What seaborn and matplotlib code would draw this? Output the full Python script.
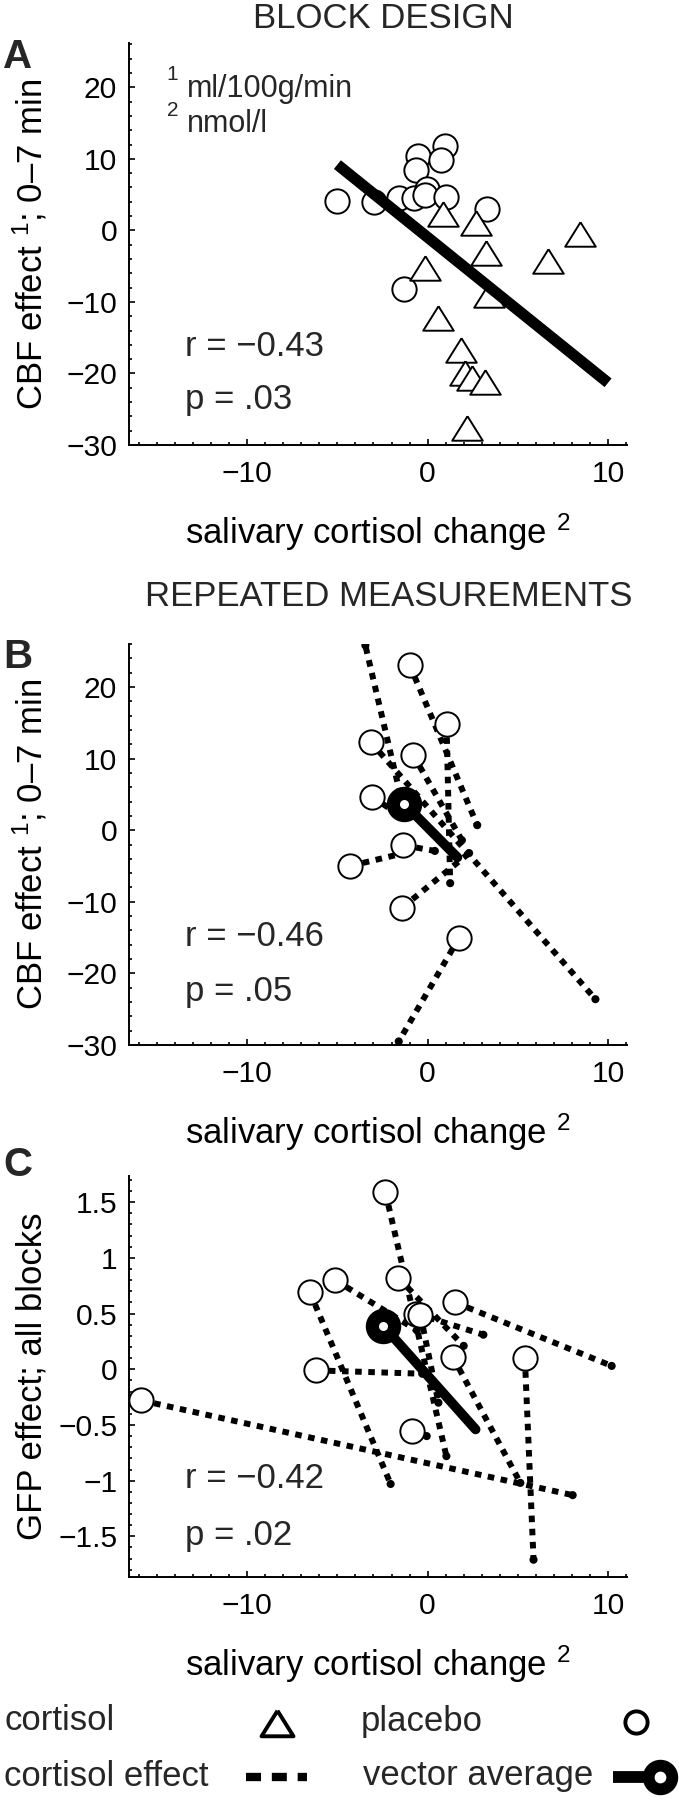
import numpy as np
import pandas as pd
import matplotlib
matplotlib.use("Agg")
import matplotlib.pyplot as plt
import seaborn as sns
from matplotlib.ticker import MultipleLocator, FixedLocator, FixedFormatter

W, H = 679, 1800

# ---- panel A: block design (placebo circles, cortisol triangles)
a_plac_x = [-5.0, -2.95, -1.6, -0.53, -0.65, -0.77, -0.05, -0.17, 0.97, 0.72, 1.04, 3.28, -1.3]
a_plac_y = [4.1, 4.0, 4.5, 10.4, 8.4, 4.5, 5.8, 4.9, 11.8, 9.9, 4.7, 3.0, -8.2]
a_cort_x = [0.85, 2.66, 8.45, 3.26, 6.67, -0.17, 3.4, 0.58, 1.84, 2.08, 2.44, 3.2, 2.17]
a_cort_y = [2.3, 1.05, -0.45, -3.2, -4.3, -5.3, -9.0, -12.3, -16.7, -19.9, -20.6, -21.2, -27.6]
a_fit_x = [-5.0, 10.0]
a_fit_y = [9.2, -21.3]

# ---- panel B: repeated measurements, CBF (placebo -> cortisol per subject)
b_plac_x = [-1.0, 1.05, -3.15, -0.8, -1.35, -3.1, -1.35, -4.3, -1.4, 1.75]
b_plac_y = [23.1, 14.8, 12.3, 10.5, 3.2, 4.7, -2.1, -5.0, -10.8, -15.0]
b_cort_x = [2.75, 1.25, 9.3, 1.9, -3.45, -1.5, 0.4, -1.3, 2.3, -1.6]
b_cort_y = [0.7, -7.4, -23.6, -1.4, 25.8, 2.0, -2.9, -3.2, -3.2, -29.5]
b_vec_x = [-1.3, 1.65]
b_vec_y = [3.7, -3.8]

# ---- panel C: repeated measurements, GFP
c_plac_x = [-2.34, -1.62, -6.52, -5.12, -0.65, -0.4, 1.52, 1.4, 5.39, -6.2, -15.87, -0.89]
c_plac_y = [1.59, 0.82, 0.69, 0.80, 0.50, 0.49, 0.60, 0.11, 0.10, -0.01, -0.28, -0.55]
c_cort_x = [1.04, 2.0, -2.05, -0.6, 3.09, 0.6, 10.2, 5.14, 5.87, -0.3, 8.04, -0.05]
c_cort_y = [-0.78, 0.21, -1.03, 0.35, 0.31, -0.3, 0.03, -1.02, -1.71, -0.04, -1.13, -0.6]
c_vec_x = [-2.46, 2.66]
c_vec_y = [0.39, -0.54]

cbf_ticks = [-30, -20, -10, 0, 10, 20]
gfp_ticks = [-1.5, -1, -0.5, 0, 0.5, 1, 1.5]
gfp_ticklabels = ["\u22121.5", "\u22121", "\u22120.5", "0", "0.5", "1", "1.5"]
x_ticks = [-10, 0, 10]
stats = [("r = \u22120.43", "p = .03"), ("r = \u22120.46", "p = .05"), ("r = \u22120.42", "p = .02")]

sns.set_theme(style="ticks")
plt.rcParams["font.family"] = ["Liberation Sans", "DejaVu Sans"]
plt.rcParams["axes.unicode_minus"] = True
plt.rcParams["mathtext.fontset"] = "custom"
plt.rcParams["mathtext.rm"] = "Liberation Sans"
plt.rcParams["mathtext.it"] = "Liberation Sans:italic"
plt.rcParams["mathtext.bf"] = "Liberation Sans:bold"

fig = plt.figure(figsize=(W / 100, H / 100), dpi=100)
fig.patch.set_facecolor("white")

LBL = 25
TCK = 21.6
CIRC = 17.5   # placebo circle size (pt)
TRI = 22      # cortisol triangle size (pt)


def fx(x):
    return x / W


def fy(y):
    return 1 - y / H


def make_axes(top, bottom):
    return fig.add_axes([fx(129), fy(bottom), 498 / W, (bottom - top) / H])


def style_axes(ax, ylim, yticks, yminor, ylabel, yticklabels=None):
    ax.set_xlim(-16.55, 11.05)
    ax.set_ylim(*ylim)
    ax.set_facecolor("white")
    for s in ["top", "right"]:
        ax.spines[s].set_visible(False)
    for s in ["left", "bottom"]:
        ax.spines[s].set_linewidth(1.4)
        ax.spines[s].set_color("black")
    ax.xaxis.set_major_locator(FixedLocator(x_ticks))
    ax.xaxis.set_minor_locator(MultipleLocator(1))
    ax.yaxis.set_major_locator(FixedLocator(yticks))
    ax.yaxis.set_minor_locator(MultipleLocator(yminor))
    if yticklabels is not None:
        ax.yaxis.set_major_formatter(FixedFormatter(yticklabels))
    ax.tick_params(which="both", direction="in", colors="black", width=1.2)
    ax.tick_params(which="major", length=4, labelsize=TCK)
    ax.tick_params(which="minor", length=2.5)
    ax.tick_params(axis="y", pad=8.5)
    ax.tick_params(axis="x", pad=11)
    ax.set_xlabel("salivary cortisol change $^{2}$", fontsize=LBL, color="black")
    ax.xaxis.set_label_coords(0.5, -0.165)
    ax.set_ylabel(ylabel, fontsize=LBL, color="black")
    ax.yaxis.set_label_coords(-0.161, 0.5)


def tri_marker():
    return [(0, 0.8), (-1, -0.8), (1, -0.8), (0, 0.8)]


def draw_pairs(ax, px, py, cx, cy, vx, vy):
    for x0, y0, x1, y1 in zip(px, py, cx, cy):
        ax.plot([x0, x1], [y0, y1], color="black", lw=4.3,
                linestyle=(0, (1.1, 1.1)), dash_capstyle="butt", zorder=2)
    sns.scatterplot(x=cx, y=cy, ax=ax, s=34, color="black", edgecolor="none",
                    zorder=3, legend=False)
    sns.scatterplot(x=px, y=py, ax=ax, s=CIRC ** 2, marker="o", facecolor="white",
                    edgecolor="black", linewidth=1.4, zorder=4, legend=False)
    ax.plot(vx, vy, color="black", lw=7, solid_capstyle="round", zorder=5)
    ax.plot(vx[0], vy[0], "o", ms=16, mew=9.5, mec="black", mfc="white", zorder=6)


# ---------------- panel A
axA = make_axes(43, 445)
sns.scatterplot(data=pd.DataFrame({"x": a_plac_x, "y": a_plac_y}), x="x", y="y", ax=axA,
                s=CIRC ** 2, marker="o", facecolor="white", edgecolor="black", linewidth=1.4,
                zorder=3, legend=False)
sns.scatterplot(data=pd.DataFrame({"x": a_cort_x, "y": a_cort_y}), x="x", y="y", ax=axA,
                s=TRI ** 2, marker=tri_marker(), facecolor="white", edgecolor="black",
                linewidth=1.4, zorder=3, legend=False)
axA.plot(a_fit_x, a_fit_y, color="black", lw=8, solid_capstyle="butt", zorder=5)
style_axes(axA, (-30, 26.2), cbf_ticks, 2, "CBF effect $^{1}$; 0\u20137 min")

# ---------------- panel B
axB = make_axes(644, 1045)
draw_pairs(axB, b_plac_x, b_plac_y, b_cort_x, b_cort_y, b_vec_x, b_vec_y)
style_axes(axB, (-30, 26.0), cbf_ticks, 2, "CBF effect $^{1}$; 0\u20137 min")

# ---------------- panel C
axC = make_axes(1176, 1577)
draw_pairs(axC, c_plac_x, c_plac_y, c_cort_x, c_cort_y, c_vec_x, c_vec_y)
style_axes(axC, (-1.865, 1.735), gfp_ticks, 0.1, "GFP effect; all blocks", gfp_ticklabels)

# ---------------- texts
fig.text(fx(383), fy(18), "BLOCK DESIGN", fontsize=LBL, ha="center", va="center")
fig.text(fx(389), fy(597), "REPEATED MEASUREMENTS", fontsize=LBL, ha="center", va="center")
for letter, yy in [("A", 57), ("B", 657), ("C", 1165)]:
    fig.text(fx(3), fy(yy), letter, fontsize=29, fontweight="bold", ha="left", va="center")

fig.text(fx(166), fy(75), "1", fontsize=15, ha="left", va="center")
fig.text(fx(187), fy(89), "ml/100g/min", fontsize=22, ha="left", va="center")
fig.text(fx(167), fy(111), "2", fontsize=15, ha="left", va="center")
fig.text(fx(187), fy(124), "nmol/l", fontsize=22, ha="left", va="center")

for (r_txt, p_txt), (yr, yp) in zip(stats, [(346, 400), (937, 992), (1478, 1535)]):
    fig.text(fx(185), fy(yr), r_txt, fontsize=LBL, ha="left", va="center")
    fig.text(fx(185), fy(yp), p_txt, fontsize=LBL, ha="left", va="center")

# ---------------- legend strip
lax = fig.add_axes([0, 0, 1, 120 / H])
lax.set_xlim(0, W)
lax.set_ylim(1800, 1680)
lax.axis("off")
lax.text(4, 1721, "cortisol", fontsize=LBL, ha="left", va="center")
lax.text(361, 1721, "placebo", fontsize=LBL, ha="left", va="center")
lax.text(4, 1776, "cortisol effect", fontsize=LBL, ha="left", va="center")
lax.text(363, 1776, "vector average", fontsize=LBL, ha="left", va="center")
lax.plot([277], [1723], marker=tri_marker(), ms=23, mfc="white", mec="black", mew=2.8)
lax.plot([636], [1722], "o", ms=16, mfc="white", mec="black", mew=2.8)
lax.plot([246, 307], [1777, 1777], color="black", lw=6, linestyle=(0, (1.8, 1.3)),
         dash_capstyle="butt")
lax.plot([613, 658], [1777, 1777], color="black", lw=8.5, solid_capstyle="butt")
lax.plot([660], [1777], "o", ms=17, mew=8.5, mec="black", mfc="white")

fig.savefig("out.png", dpi=100, facecolor="white")
